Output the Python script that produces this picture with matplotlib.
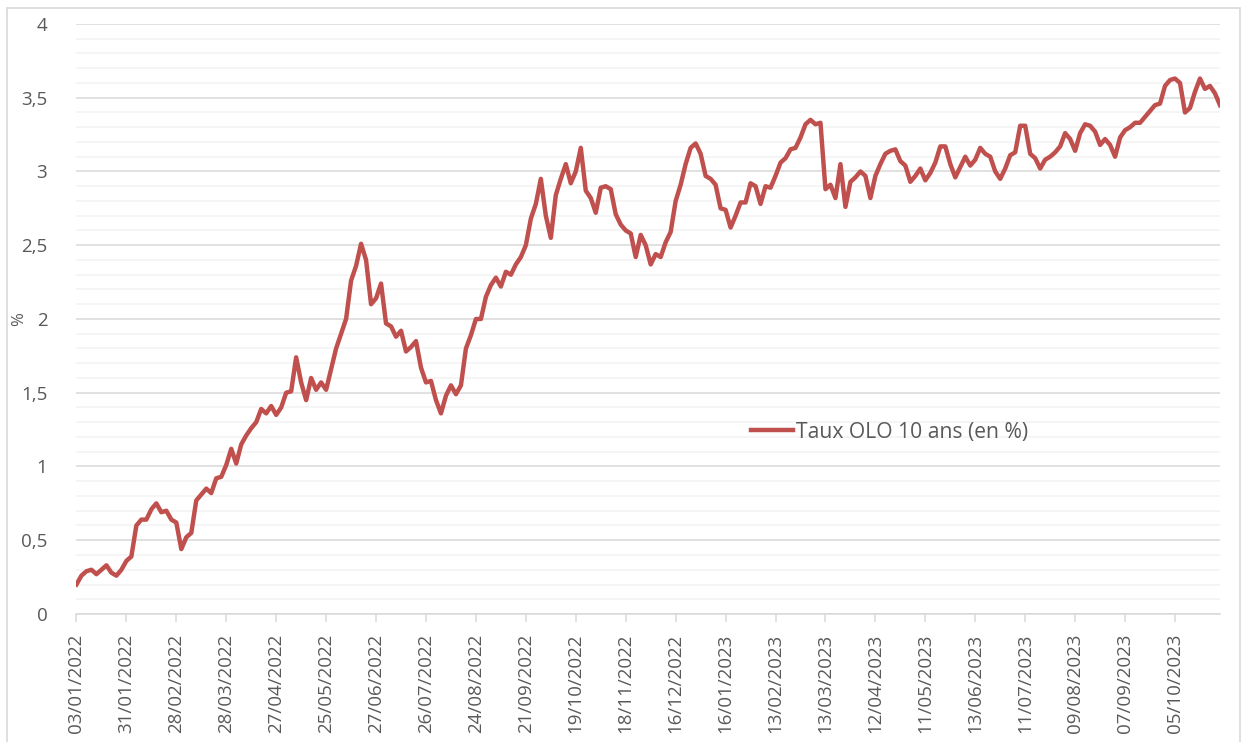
import matplotlib.pyplot as plt
import numpy as np
from matplotlib.patches import Rectangle

# Taux OLO 10 ans (en %), un point lu tous les 2 jours ouvrés
taux = [
    0.20, 0.26, 0.29, 0.30, 0.27, 0.30, 0.33, 0.28, 0.26, 0.30,
    0.36, 0.39, 0.60, 0.64, 0.64, 0.71, 0.75, 0.69, 0.70, 0.64,
    0.62, 0.44, 0.52, 0.55, 0.77, 0.81, 0.85, 0.82, 0.92, 0.93,
    1.01, 1.12, 1.02, 1.15, 1.21, 1.26, 1.30, 1.39, 1.36, 1.41,
    1.35, 1.40, 1.50, 1.51, 1.74, 1.57, 1.45, 1.60, 1.52, 1.57,
    1.52, 1.66, 1.80, 1.90, 2.00, 2.26, 2.36, 2.51, 2.40, 2.10,
    2.14, 2.24, 1.97, 1.95, 1.88, 1.92, 1.78, 1.81, 1.85, 1.67,
    1.57, 1.58, 1.45, 1.36, 1.48, 1.55, 1.49, 1.55, 1.80, 1.89,
    2.00, 2.00, 2.15, 2.23, 2.28, 2.22, 2.32, 2.30, 2.37, 2.42,
    2.50, 2.68, 2.78, 2.95, 2.70, 2.55, 2.84, 2.95, 3.05, 2.92,
    3.00, 3.16, 2.87, 2.82, 2.72, 2.89, 2.90, 2.88, 2.71, 2.64,
    2.60, 2.58, 2.42, 2.57, 2.50, 2.37, 2.44, 2.42, 2.52, 2.59,
    2.80, 2.91, 3.05, 3.16, 3.19, 3.12, 2.97, 2.95, 2.91, 2.75,
    2.74, 2.62, 2.70, 2.79, 2.79, 2.92, 2.90, 2.78, 2.90, 2.89,
    2.97, 3.06, 3.09, 3.15, 3.16, 3.23, 3.32, 3.35, 3.32, 3.33,
    2.88, 2.91, 2.82, 3.05, 2.76, 2.93, 2.96, 3.00, 2.97, 2.82,
    2.97, 3.05, 3.12, 3.14, 3.15, 3.07, 3.04, 2.93, 2.97, 3.02,
    2.94, 2.99, 3.06, 3.17, 3.17, 3.05, 2.96, 3.03, 3.10, 3.04,
    3.08, 3.16, 3.12, 3.10, 3.00, 2.95, 3.02, 3.11, 3.13, 3.31,
    3.31, 3.12, 3.09, 3.02, 3.08, 3.10, 3.13, 3.17, 3.26, 3.22,
    3.14, 3.26, 3.32, 3.31, 3.27, 3.18, 3.22, 3.18, 3.10, 3.23,
    3.28, 3.30, 3.33, 3.33, 3.37, 3.41, 3.45, 3.46, 3.58, 3.62,
    3.63, 3.60, 3.40, 3.43, 3.54, 3.63, 3.56, 3.58, 3.53, 3.45,
]

date_labels = [
    '03/01/2022', '31/01/2022', '28/02/2022', '28/03/2022', '27/04/2022',
    '25/05/2022', '27/06/2022', '26/07/2022', '24/08/2022', '21/09/2022',
    '19/10/2022', '18/11/2022', '16/12/2022', '16/01/2023', '13/02/2023',
    '13/03/2023', '12/04/2023', '11/05/2023', '13/06/2023', '11/07/2023',
    '09/08/2023', '07/09/2023', '05/10/2023',
]

step = 2          # jours ouvrés entre deux points
tick_every = 20   # jours ouvrés entre deux étiquettes

grey = '#595959'
plt.rcParams['font.family'] = ['Open Sans', 'DejaVu Sans']

fig = plt.figure(figsize=(12.47, 7.42), dpi=100)
fig.patches.append(Rectangle((0.0056, -0.01), 0.9888, 0.9993, transform=fig.transFigure,
                             fill=False, edgecolor='#D9D9D9', lw=1.2))
ax = fig.add_axes([0.0613, 0.1725, 0.917, 0.7952])

x = np.arange(len(taux)) * step
ax.plot(x, taux, color='#C0504D', lw=3.2, solid_joinstyle='round',
        label='Taux OLO 10 ans (en %)')

ax.set_xlim(0, x[-1])
ax.set_ylim(0, 4)
yt = np.arange(0, 4.01, 0.5)
ax.set_yticks(yt)
ax.set_yticklabels([f'{v:g}'.replace('.', ',') for v in yt], color=grey, fontsize=13.5)
ax.set_yticks(np.arange(0, 4.01, 0.1), minor=True)
ax.grid(axis='y', which='major', color='#D9D9D9', lw=1.1)
ax.grid(axis='y', which='minor', color='#F2F2F2', lw=1.1)
ax.set_axisbelow(True)
ax.tick_params(axis='y', which='both', length=0, pad=21)

ax.set_xticks(np.arange(len(date_labels)) * tick_every)
ax.set_xticklabels(date_labels, rotation=90, color=grey, fontsize=13.5)
ax.tick_params(axis='x', length=6, color='#D9D9D9', width=1.1, pad=8)

for s in ['top', 'right', 'left']:
    ax.spines[s].set_visible(False)
ax.spines['bottom'].set_color('#D9D9D9')
ax.spines['bottom'].set_linewidth(1.1)

ax.set_ylabel('%', color=grey, fontsize=12)
ax.yaxis.set_label_coords(-0.043, 0.5)

ax.legend(loc='center left', bbox_to_anchor=(0.59, 0.308), frameon=False,
          fontsize=15.2, handlelength=2.0, handletextpad=0.15,
          borderpad=0, borderaxespad=0, labelcolor=grey)

plt.savefig('out.png', dpi=100)
